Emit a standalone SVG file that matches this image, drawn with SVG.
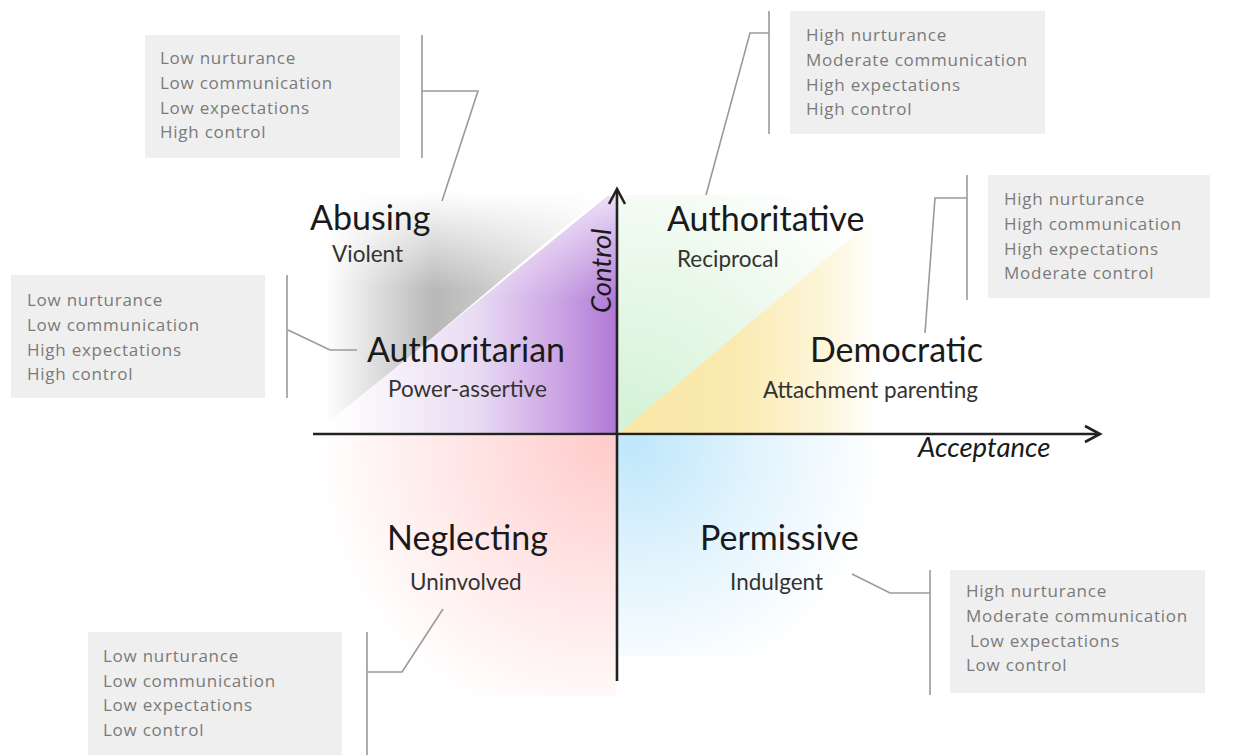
<svg xmlns="http://www.w3.org/2000/svg" width="1238" height="755" viewBox="0 0 1238 755">
  <defs>
    <style>
      .lbl { font-family: Lato, "Liberation Sans", sans-serif; fill: #1a1a1a; font-size: 34px; }
      .sub { font-family: Lato, "Liberation Sans", sans-serif; fill: #333333; font-size: 22.5px; }
      .ax { font-family: Lato, "Liberation Sans", sans-serif; fill: #1a1a1a; font-size: 27.5px; font-style: italic; }
      .box { fill: #efefef; }
      .ct { font-family: "Open Sans", "Noto Sans", sans-serif; fill: #7a7a7a; font-size: 17px; letter-spacing: 0.75px; }
      .br { fill: none; stroke: #9a9a9a; stroke-width: 1.6; }
      .axis { fill: none; stroke: #222222; stroke-width: 2.6; }
    </style>
    <linearGradient id="gGrey" gradientUnits="userSpaceOnUse" x1="325" y1="0" x2="612" y2="0">
      <stop offset="0" stop-color="#ffffff"/>
      <stop offset="0.38" stop-color="#b8b8b8"/>
      <stop offset="0.7" stop-color="#d4d4d4"/>
      <stop offset="1" stop-color="#f2f2f2"/>
    </linearGradient>
    <linearGradient id="gFadeTop" gradientUnits="userSpaceOnUse" x1="0" y1="192" x2="0" y2="290">
      <stop offset="0" stop-color="#ffffff" stop-opacity="1"/>
      <stop offset="1" stop-color="#ffffff" stop-opacity="0"/>
    </linearGradient>
    <linearGradient id="gPurple" gradientUnits="userSpaceOnUse" x1="335" y1="0" x2="615" y2="0">
      <stop offset="0" stop-color="#ffffff"/>
      <stop offset="0.5" stop-color="#e9dcf3"/>
      <stop offset="0.8" stop-color="#cba4e4"/>
      <stop offset="1" stop-color="#b079d6"/>
    </linearGradient>
    <linearGradient id="gPurpleFade" gradientUnits="userSpaceOnUse" x1="0" y1="196" x2="0" y2="300">
      <stop offset="0" stop-color="#ffffff" stop-opacity="0.75"/>
      <stop offset="1" stop-color="#ffffff" stop-opacity="0"/>
    </linearGradient>
    <radialGradient id="gGreen" gradientUnits="userSpaceOnUse" cx="625" cy="430" r="300">
      <stop offset="0" stop-color="#d3f2d6"/>
      <stop offset="0.6" stop-color="#ecf9ec"/>
      <stop offset="1" stop-color="#ffffff"/>
    </radialGradient>
    <linearGradient id="gYellow" gradientUnits="userSpaceOnUse" x1="618" y1="0" x2="880" y2="0">
      <stop offset="0" stop-color="#f8e7a6"/>
      <stop offset="0.45" stop-color="#fbeab0"/>
      <stop offset="0.8" stop-color="#fdf6dc"/>
      <stop offset="1" stop-color="#ffffff"/>
    </linearGradient>
    <radialGradient id="gPink" gradientUnits="userSpaceOnUse" cx="605" cy="445" r="290">
      <stop offset="0" stop-color="#ffcccc"/>
      <stop offset="0.5" stop-color="#ffe6e6"/>
      <stop offset="1" stop-color="#ffffff"/>
    </radialGradient>
    <radialGradient id="gBlue" gradientUnits="userSpaceOnUse" cx="635" cy="445" r="250">
      <stop offset="0" stop-color="#bfe7fb"/>
      <stop offset="0.5" stop-color="#e3f4fd"/>
      <stop offset="1" stop-color="#ffffff"/>
    </radialGradient>
  </defs>

  <rect width="1238" height="755" fill="#ffffff"/>

  <g id="shading">
    <polygon points="325,192 606,192 320,432" fill="url(#gGrey)"/>
    <polygon points="325,192 606,192 320,432" fill="url(#gFadeTop)"/>
    <polygon points="316,432 608,196 616,196 616,433" fill="url(#gPurple)"/>
    <polygon points="316,432 608,196 616,196 616,433" fill="url(#gPurpleFade)"/>
    <polygon points="618,195 880,195 880,215 619,433" fill="url(#gGreen)"/>
    <polygon points="619,433 870,222 880,222 880,433" fill="url(#gYellow)"/>
    <rect x="318" y="436" width="298" height="260" fill="url(#gPink)"/>
    <rect x="618" y="436" width="270" height="220" fill="url(#gBlue)"/>
  </g>

  <g id="connectors">
    <path class="br" d="M422,35 V158 M422,91 H478 L442,201"/>
    <path class="br" d="M769,11 V134 M769,33 H750 L706,195"/>
    <path class="br" d="M967,175 V300 M967,198 H935 L925,333"/>
    <path class="br" d="M287,275 V398 M288,330 L330,350 H357"/>
    <path class="br" d="M367,632 V755 M367,672 H402 L443,609"/>
    <path class="br" d="M930,570 V695 M930,593 H890 L852,574"/>
  </g>

  <g id="axes">
    <path class="axis" d="M313,434 H1099"/>
    <path class="axis" d="M1085,426 L1100,434 L1085,442"/>
    <path class="axis" d="M617,681 V190"/>
    <path class="axis" d="M609,204 L617,189 L625,204"/>
    <text class="ax" x="918" y="457">Acceptance</text>
    <text class="ax" transform="translate(611,313) rotate(-90)">Control</text>
  </g>

  <g id="abusing">
    <text class="lbl" x="310" y="230">Abusing</text>
    <text class="sub" x="332" y="262">Violent</text>
    <rect class="box" x="145" y="35" width="255" height="123"/>
    <text class="ct" x="160" y="64">Low nurturance</text>
    <text class="ct" x="160" y="89">Low communication</text>
    <text class="ct" x="160" y="114">Low expectations</text>
    <text class="ct" x="160" y="138">High control</text>
  </g>

  <g id="authoritative">
    <text class="lbl" x="667" y="231">Authoritative</text>
    <text class="sub" x="677" y="267">Reciprocal</text>
    <rect class="box" x="790" y="11" width="255" height="123"/>
    <text class="ct" x="806" y="41">High nurturance</text>
    <text class="ct" x="806" y="66">Moderate communication</text>
    <text class="ct" x="806" y="91">High expectations</text>
    <text class="ct" x="806" y="115">High control</text>
  </g>

  <g id="democratic">
    <text class="lbl" x="810" y="362">Democratic</text>
    <text class="sub" x="763" y="398">Attachment parenting</text>
    <rect class="box" x="988" y="175" width="222" height="123"/>
    <text class="ct" x="1004" y="205">High nurturance</text>
    <text class="ct" x="1004" y="230">High communication</text>
    <text class="ct" x="1004" y="255">High expectations</text>
    <text class="ct" x="1004" y="279">Moderate control</text>
  </g>

  <g id="authoritarian">
    <text class="lbl" x="367" y="362">Authoritarian</text>
    <text class="sub" x="388" y="397">Power-assertive</text>
    <rect class="box" x="11" y="275" width="254" height="123"/>
    <text class="ct" x="27" y="306">Low nurturance</text>
    <text class="ct" x="27" y="331">Low communication</text>
    <text class="ct" x="27" y="356">High expectations</text>
    <text class="ct" x="27" y="380">High control</text>
  </g>

  <g id="neglecting">
    <text class="lbl" x="387" y="550">Neglecting</text>
    <text class="sub" x="410" y="590">Uninvolved</text>
    <rect class="box" x="88" y="632" width="254" height="123"/>
    <text class="ct" x="103" y="662">Low nurturance</text>
    <text class="ct" x="103" y="687">Low communication</text>
    <text class="ct" x="103" y="711">Low expectations</text>
    <text class="ct" x="103" y="736">Low control</text>
  </g>

  <g id="permissive">
    <text class="lbl" x="700" y="550">Permissive</text>
    <text class="sub" x="730" y="590">Indulgent</text>
    <rect class="box" x="950" y="570" width="255" height="123"/>
    <text class="ct" x="966" y="597">High nurturance</text>
    <text class="ct" x="966" y="622">Moderate communication</text>
    <text class="ct" x="970" y="647">Low expectations</text>
    <text class="ct" x="966" y="671">Low control</text>
  </g>
</svg>
